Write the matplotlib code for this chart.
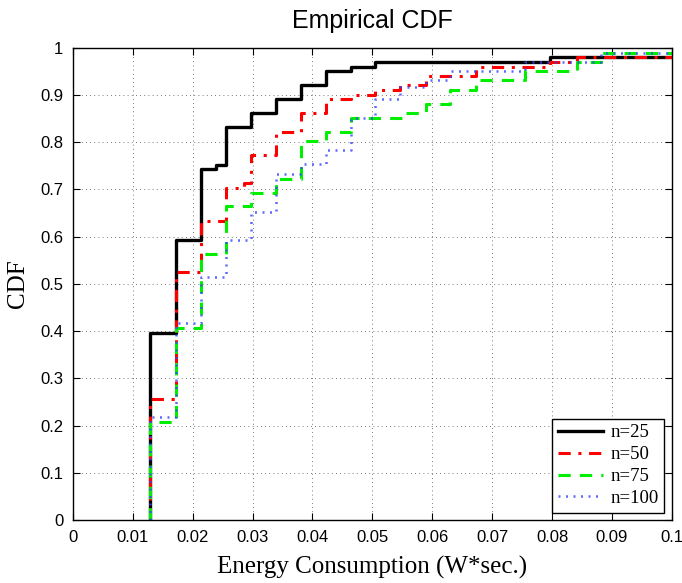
import numpy as np
import matplotlib
matplotlib.use('Agg')
import matplotlib.pyplot as plt

# step positions (W*sec) and CDF level after each step
x25 = [0.0129, 0.0172, 0.0213, 0.0239, 0.0255, 0.0297, 0.0339, 0.0381, 0.0422, 0.0464, 0.0504, 0.0797, 0.105]
y25 = [0.396, 0.594, 0.743, 0.752, 0.832, 0.862, 0.891, 0.921, 0.950, 0.960, 0.970, 0.980, 1.0]

x50 = [0.0129, 0.0172, 0.0213, 0.0255, 0.0285, 0.0297, 0.0339, 0.0381, 0.0422, 0.0464, 0.0504, 0.0546,
       0.0589, 0.0673, 0.0797, 0.0841, 0.105]
y50 = [0.257, 0.525, 0.633, 0.704, 0.713, 0.772, 0.822, 0.862, 0.891, 0.901, 0.911, 0.921,
       0.941, 0.960, 0.970, 0.980, 1.0]

x75 = [0.0129, 0.0172, 0.0213, 0.0255, 0.0297, 0.0339, 0.0381, 0.0422, 0.0464, 0.0550, 0.0589,
       0.0629, 0.0673, 0.0755, 0.0841, 0.0881, 0.105]
y75 = [0.208, 0.406, 0.564, 0.664, 0.693, 0.722, 0.802, 0.822, 0.851, 0.861, 0.881,
       0.911, 0.931, 0.950, 0.970, 0.990, 1.0]

x100 = [0.0129, 0.0172, 0.0213, 0.0255, 0.0297, 0.0339, 0.0381, 0.0422, 0.0464, 0.0504, 0.0546,
        0.0589, 0.0629, 0.0755, 0.0881, 0.105]
y100 = [0.218, 0.418, 0.514, 0.593, 0.653, 0.733, 0.754, 0.784, 0.852, 0.892, 0.918,
        0.932, 0.950, 0.970, 0.990, 1.0]

labels = ['n=25', 'n=50', 'n=75', 'n=100']
xticks = [0, 0.01, 0.02, 0.03, 0.04, 0.05, 0.06, 0.07, 0.08, 0.09, 0.1]
xticklabels = ['0', '0.01', '0.02', '0.03', '0.04', '0.05', '0.06', '0.07', '0.08', '0.09', '0.1']
yticks = [0, 0.1, 0.2, 0.3, 0.4, 0.5, 0.6, 0.7, 0.8, 0.9, 1.0]
yticklabels = ['0', '0.1', '0.2', '0.3', '0.4', '0.5', '0.6', '0.7', '0.8', '0.9', '1']

plt.rcParams['font.family'] = 'Liberation Sans'

fig = plt.figure(figsize=(6.82, 5.83), dpi=100)
ax = fig.add_axes([0.107, 0.108, 0.878, 0.810])


def stairs(xs, ys):
    # start the staircase at zero, like cdfplot
    return np.r_[xs[0], xs], np.r_[0.0, ys]


sx, sy = stairs(x25, y25)
ax.plot(sx, sy, drawstyle='steps-post', color='black', lw=2.4, ls='-', label=labels[0])
sx, sy = stairs(x50, y50)
ax.plot(sx, sy, drawstyle='steps-post', color='#ff0000', lw=2.2, ls=(0, (4, 2.5, 1, 2.5)), label=labels[1])
sx, sy = stairs(x75, y75)
ax.plot(sx, sy, drawstyle='steps-post', color='#00ee00', lw=2.2, ls=(0, (4, 3)), label=labels[2])
sx, sy = stairs(x100, y100)
ax.plot(sx, sy, drawstyle='steps-post', color='#3344ff', lw=1.8, ls=(0, (0.8, 2.2)), alpha=0.8, label=labels[3])

ax.set_xlim(0, 0.1)
ax.set_ylim(0, 1)
ax.set_xticks(xticks)
ax.set_xticklabels(xticklabels)
ax.set_yticks(yticks)
ax.set_yticklabels(yticklabels)
ax.tick_params(direction='in', top=True, right=True, length=5, width=0.8, labelsize=12, pad=7)
ax.grid(True, ls=(0, (1, 4)), color='black', lw=0.6, alpha=0.7)
for s in ax.spines.values():
    s.set_linewidth(1.0)

ax.set_title('Empirical CDF', fontsize=18, pad=14)
ax.set_xlabel('Energy Consumption (W*sec.)', fontsize=18, family='Liberation Serif', labelpad=8)
ax.set_ylabel('CDF', fontsize=18, family='Liberation Serif', labelpad=8)

leg = ax.legend(loc='lower right', prop={'family': 'Liberation Serif', 'size': 13.5}, fancybox=False,
                edgecolor='black', framealpha=1, borderaxespad=0.4, handlelength=2.4,
                labelspacing=0.25, borderpad=0.3, handletextpad=0.4)
leg.get_frame().set_linewidth(1.0)

fig.savefig('out.png', dpi=100)
